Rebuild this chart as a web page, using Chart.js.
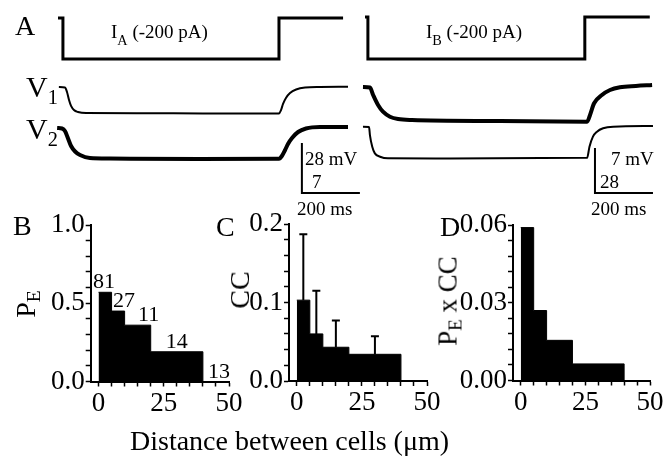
<!DOCTYPE html>
<html lang="en">
<head>
<meta charset="UTF-8">
<title>Electrical coupling vs distance</title>
<script src="https://cdn.jsdelivr.net/npm/chart.js"></script>
<style>
  body { margin: 0; background: #fff; }
  #fig { position: relative; width: 666px; height: 460px; overflow: hidden; font-family: "Liberation Serif", serif; color: #000; }
  #fig canvas { position: absolute; }
  .lbl { position: absolute; line-height: 1; white-space: nowrap; }
  .rot { position: absolute; line-height: 1; white-space: nowrap; transform: translate(-50%, -50%) rotate(-90deg); }
  .subI { font-size: 0.75em; position: relative; top: 0.5em; }
  .subV { font-size: 0.68em; position: relative; top: 0.33em; }
  .subP { font-size: 0.7em; position: relative; top: 0.25em; }
</style>
</head>
<body>
<div id="fig">
  <canvas id="traces" width="666" height="225" style="left:0px;top:0px"></canvas>
  <canvas id="chartB" width="245" height="232" style="left:0px;top:195px"></canvas>
  <canvas id="chartC" width="245" height="232" style="left:200px;top:195px"></canvas>
  <canvas id="chartD" width="241" height="232" style="left:425px;top:195px"></canvas>

  <div class="lbl" style="left:15px;top:12px;font-size:28px">A</div>
  <div class="lbl" style="left:13px;top:212px;font-size:28px">B</div>
  <div class="lbl" style="left:216px;top:213px;font-size:28px">C</div>
  <div class="lbl" style="left:440px;top:213px;font-size:28px">D</div>

  <div class="lbl" style="left:111px;top:22px;font-size:19px">I<span class="subI">A</span> (-200 pA)</div>
  <div class="lbl" style="left:426px;top:22px;font-size:19px">I<span class="subI">B</span> (-200 pA)</div>
  <div class="lbl" style="left:26px;top:72px;font-size:30px">V<span class="subV">1</span></div>
  <div class="lbl" style="left:26px;top:114px;font-size:30px">V<span class="subV">2</span></div>

  <div class="lbl" style="left:305px;top:149px;font-size:19px">28 mV</div>
  <div class="lbl" style="left:312px;top:172px;font-size:19px">7</div>
  <div class="lbl" style="left:297px;top:199px;font-size:19px">200 ms</div>
  <div class="lbl" style="left:611px;top:149px;font-size:19px">7 mV</div>
  <div class="lbl" style="left:600px;top:172px;font-size:19px">28</div>
  <div class="lbl" style="left:591px;top:199px;font-size:19px">200 ms</div>

  <div class="rot" style="left:26px;top:304px;font-size:28px">P<span class="subP">E</span></div>
  <div class="rot" style="left:240px;top:290px;font-size:28px">CC</div>
  <div class="rot" style="left:448px;top:301px;font-size:27px">P<span class="subP">E</span> x CC</div>

  <div class="lbl" style="left:130px;top:427px;font-size:28px">Distance between cells (μm)</div>
</div>

<script>
// ---- panel A: current steps (pA) and voltage responses (mV) vs time (ms) ----
const iA_t  = [0, 17, 17, 762, 762, 983];
const iA_pA = [0, 0, -200, -200, 0, 0];
const iB_t  = [0, 10, 10, 758, 758, 982];
const iB_pA = [0, 0, -200, -200, 0, 0];

// stimulating cell A
const v1L_t  = [3, 24, 31, 38, 45, 55, 69, 97, 300, 500, 762, 769, 776, 786, 800, 821, 852, 903, 1000];
const v1L_mV = [0, -0.3, -2.8, -7.3, -10.6, -12.9, -14.0, -14.6, -14.7, -14.8, -14.8, -12.9, -9.5, -6.2, -3.4, -1.4, -0.3, 0, 0.1];
const v2L_t  = [-3, 14, 24, 34, 45, 59, 76, 110, 179, 490, 762, 772, 783, 793, 807, 828, 855, 903, 1000];
const v2L_mV = [0, -0.07, -0.42, -1.40, -2.52, -3.29, -3.78, -4.20, -4.27, -4.34, -4.30, -3.92, -3.08, -2.24, -1.40, -0.56, -0.07, 0.14, 0.14];

// stimulating cell B
const v1R_t  = [-7, 17, 28, 45, 62, 86, 114, 162, 466, 766, 776, 790, 817, 845, 879, 934, 990];
const v1R_mV = [0, -0.08, -1.24, -2.80, -3.84, -4.62, -4.98, -5.13, -5.29, -5.40, -4.35, -2.53, -1.24, -0.47, -0.05, 0.16, 0.31];
const v2R_t  = [-7, 14, 17, 25, 34, 52, 79, 293, 766, 774, 786, 800, 821, 856, 993];
const v2R_mV = [0.2, 0, -5.0, -12.3, -16.4, -18.5, -19.5, -19.6, -19.2, -12.3, -6.0, -2.9, -0.8, 0.2, 0.6];

// scale bars
const barTimeMs = 200;
const barL_mV = 28;   // V1 (left); V2 = 7
const barR_mV = 7;    // V1 (right); V2 = 28

// ---- panels B-D: binned by distance between cells (um) ----
const binEdges = [0, 5, 10, 20, 40, 50];
const pE      = [0.57, 0.45, 0.36, 0.19, 0];
const pairsN  = [81, 27, 11, 14, 13];
const cc      = [0.103, 0.060, 0.043, 0.034];
const ccSem   = [0.084, 0.055, 0.034, 0.023];
const pExCC   = [0.059, 0.027, 0.0155, 0.0064];

const xTicks  = [0, 25, 50];
const yTicksB = [0, 0.5, 1.0];
const yTicksC = [0, 0.1, 0.2];
const yTicksD = [0, 0.03, 0.06];

Chart.defaults.font.family = '"Liberation Serif", serif';
Chart.defaults.color = '#000';
Chart.defaults.plugins.legend.display = false;
Chart.defaults.plugins.tooltip.enabled = false;

// ---------- panel A ----------
const H_A = 225, W_A = 666;
// trace layout: zero row (px) and gain (px per unit)
function chan(row0, pxPerUnit) {
    return { type: 'linear', display: false, bounds: 'data', min: (row0 - H_A) / pxPerUnit, max: row0 / pxPerUnit };
}
function timeAxis(px0, pxPerMs) {
    return { type: 'linear', display: false, bounds: 'data', min: -px0 / pxPerMs, max: (W_A - px0) / pxPerMs };
}
const pxPerMs = 0.29;
const gV1L = 1.786, gV2L = 7.143, gV1R = 6.43, gV2R = 1.607;
const anchorL = { t: 841, row: 193 };
const anchorR = { t: 793, row: 193 };

function trace(ts, vs) { return ts.map((t, i) => ({ x: t, y: vs[i] })); }
function scaleBar(anchor, row0, gain, mV) {
    const vBase = (row0 - anchor.row) / gain;
    return [{ x: anchor.t, y: vBase + mV }, { x: anchor.t, y: vBase }, { x: anchor.t + barTimeMs, y: vBase }];
}

const line = (data, x, y, w, smooth) => ({
    data, xAxisID: x, yAxisID: y, borderColor: '#000', borderWidth: w,
    pointRadius: 0, fill: false, clip: false, tension: 0,
    cubicInterpolationMode: smooth ? 'monotone' : 'default',
    borderJoinStyle: 'miter'
});

new Chart(document.getElementById('traces'), {
    type: 'line',
    data: {
        datasets: [
            line(trace(iA_t, iA_pA), 'xL', 'yIA', 3, false),
            line(trace(iB_t, iB_pA), 'xR', 'yIB', 3, false),
            line(trace(v1L_t, v1L_mV), 'xL', 'yV1L', 2, true),
            line(trace(v2L_t, v2L_mV), 'xL', 'yV2L', 4, true),
            line(trace(v1R_t, v1R_mV), 'xR', 'yV1R', 4, true),
            line(trace(v2R_t, v2R_mV), 'xR', 'yV2R', 2, true),
            line(scaleBar(anchorL, 87, gV1L, barL_mV), 'xL', 'yV1L', 2, false),
            line(scaleBar(anchorR, 87, gV1R, barR_mV), 'xR', 'yV1R', 2, false)
        ]
    },
    options: {
        responsive: false, animation: false, events: [],
        layout: { padding: 0 },
        scales: {
            xL: timeAxis(58, pxPerMs),
            xR: timeAxis(365, pxPerMs),
            yIA: chan(18, 0.205),
            yIB: chan(17, 0.21),
            yV1L: chan(87, gV1L),
            yV2L: chan(128, gV2L),
            yV1R: chan(87, gV1R),
            yV2R: chan(127, gV2R)
        }
    }
});

// ---------- panels B-D ----------
function stepData(vals) {
    const pts = vals.map((v, i) => ({ x: binEdges[i], y: v }));
    pts.push({ x: binEdges[vals.length], y: 0 });
    return pts;
}
function tickList(lo, hi, step) {
    const n = Math.round((hi - lo) / step);
    return Array.from({ length: n + 1 }, (_, i) => ({ value: lo + i * step }));
}
const isMajor = (list, v) => list.some(m => Math.abs(m - v) < 1e-9);

function histOptions(yMax, yStep, yMajor, yDec, pad, yWidth, xHeight) {
    const grid = { display: true, drawOnChartArea: false, drawTicks: true, tickLength: 5, tickColor: '#000', tickWidth: 1.5 };
    const border = { display: true, color: '#000', width: 2 };
    return {
        responsive: false, animation: false, events: [],
        layout: { padding: pad },
        scales: {
            x: {
                type: 'linear', bounds: 'data', min: -3, max: 50,
                afterBuildTicks: ax => { ax.ticks = tickList(0, 50, 5); },
                afterFit: s => { s.height = xHeight; },
                ticks: { autoSkip: false, maxRotation: 0, padding: 1, font: { size: 27 },
                         callback: v => isMajor(xTicks, v) ? String(Math.round(v)) : '' },
                grid, border
            },
            y: {
                type: 'linear', bounds: 'data', min: 0, max: yMax,
                afterBuildTicks: ax => { ax.ticks = tickList(0, yMax, yStep); },
                afterFit: s => { s.width = yWidth; },
                ticks: { autoSkip: false, padding: 1, font: { size: 27 },
                         callback: v => isMajor(yMajor, v) ? v.toFixed(yDec) : '' },
                grid, border
            }
        }
    };
}
const histSet = vals => ({
    data: stepData(vals), stepped: true, fill: 'origin',
    backgroundColor: '#000', borderColor: '#000', borderWidth: 1, pointRadius: 0
});

const countDx = [-1, 6, 11, 0, 3];
const countLabels = {
    id: 'countLabels',
    afterDatasetsDraw(chart) {
        const { ctx, scales: { x, y } } = chart;
        ctx.save();
        ctx.font = '22px "Liberation Serif"';
        ctx.fillStyle = '#000';
        ctx.textAlign = 'center';
        ctx.textBaseline = 'alphabetic';
        pairsN.forEach((n, i) => {
            const cx = x.getPixelForValue((binEdges[i] + binEdges[i + 1]) / 2) + countDx[i];
            ctx.fillText(String(n), cx, y.getPixelForValue(pE[i]) - 4);
        });
        ctx.restore();
    }
};

const errorBars = {
    id: 'errorBars',
    afterDatasetsDraw(chart) {
        const { ctx, scales: { x, y } } = chart;
        ctx.save();
        ctx.strokeStyle = '#000';
        ctx.lineWidth = 2;
        cc.forEach((m, i) => {
            const px = x.getPixelForValue((binEdges[i] + binEdges[i + 1]) / 2);
            const y0 = y.getPixelForValue(m), y1 = y.getPixelForValue(m + ccSem[i]);
            ctx.beginPath();
            ctx.moveTo(px, y0); ctx.lineTo(px, y1);
            ctx.moveTo(px - 4, y1); ctx.lineTo(px + 4, y1);
            ctx.stroke();
        });
        ctx.restore();
    }
};

new Chart(document.getElementById('chartB'), {
    type: 'line',
    data: { datasets: [histSet(pE)] },
    options: histOptions(1.0, 0.1, yTicksB, 1, { top: 30, right: 16, left: 0, bottom: 0 }, 90.7, 45.5),
    plugins: [countLabels]
});

new Chart(document.getElementById('chartC'), {
    type: 'line',
    data: { datasets: [histSet(cc)] },
    options: histOptions(0.2, 0.02, yTicksC, 1, { top: 29, right: 18, left: 0, bottom: 0 }, 89, 46),
    plugins: [errorBars]
});

new Chart(document.getElementById('chartD'), {
    type: 'line',
    data: { datasets: [histSet(pExCC)] },
    options: histOptions(0.06, 0.006, yTicksD, 2, { top: 30, right: 16, left: 0, bottom: 0 }, 88, 46.5)
});
</script>
</body>
</html>
